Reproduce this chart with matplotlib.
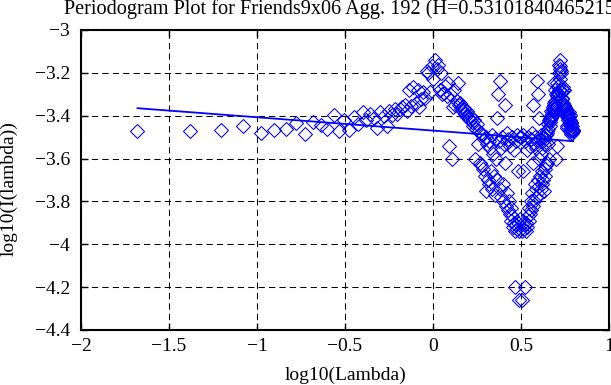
"""
Periodogram plot (log-log) for an aggregated trace, with the fitted line.
"""
import matplotlib

matplotlib.use("Agg")
import matplotlib.pyplot as plt

TITLE = "Periodogram Plot for Friends9x06 Agg. 192 (H=0.531018404652152)"

# log10(lambda) of each periodogram ordinate
log_lambda_low = [
    -1.679, -1.378, -1.202, -1.077, -0.980, -0.901, -0.834, -0.776, -0.725, -0.679,
    -0.638, -0.600, -0.565, -0.533, -0.503, -0.475, -0.449, -0.424, -0.400, -0.378,
    -0.357, -0.337, -0.317, -0.299, -0.281, -0.264, -0.248, -0.232, -0.217, -0.202,
    -0.188, -0.174, -0.160, -0.148, -0.135, -0.123, -0.111, -0.099, -0.088, -0.077,
    -0.066, -0.056, -0.045, -0.035, -0.026, -0.016, -0.007, 0.002, 0.011, 0.020,
    0.029, 0.037, 0.045, 0.053, 0.061, 0.069, 0.077, 0.084, 0.092, 0.099,
    0.106, 0.113, 0.120, 0.127, 0.134, 0.141, 0.147, 0.154, 0.160, 0.166,
    0.172, 0.178, 0.184, 0.190, 0.196, 0.202, 0.208, 0.213, 0.219, 0.224,
    0.230, 0.235, 0.240, 0.245, 0.250, 0.256, 0.261, 0.266, 0.270, 0.275,
    0.280, 0.285, 0.290, 0.294, 0.299, 0.303, 0.308, 0.312, 0.317, 0.321,
    0.325, 0.330, 0.334, 0.338, 0.342, 0.346, 0.350, 0.355, 0.359, 0.362,
    0.366, 0.370, 0.374, 0.378, 0.382, 0.386, 0.389, 0.393, 0.397, 0.400,
    0.404, 0.408, 0.411, 0.415, 0.418, 0.422, 0.425, 0.428, 0.432, 0.435,
    0.438, 0.442, 0.445, 0.448, 0.451, 0.455, 0.458, 0.461, 0.464, 0.467,
    0.470, 0.473, 0.476, 0.479, 0.482, 0.485, 0.488, 0.491, 0.494, 0.497,
]
log_lambda_high = [
    0.500, 0.503, 0.506, 0.509, 0.511, 0.514, 0.517, 0.520, 0.523, 0.525,
    0.528, 0.531, 0.533, 0.536, 0.538, 0.541, 0.544, 0.546, 0.549, 0.552,
    0.554, 0.557, 0.559, 0.562, 0.564, 0.567, 0.569, 0.571, 0.574, 0.576,
    0.579, 0.581, 0.583, 0.586, 0.588, 0.591, 0.593, 0.595, 0.597, 0.600,
    0.602, 0.604, 0.606, 0.609, 0.611, 0.613, 0.615, 0.618, 0.620, 0.622,
    0.624, 0.626, 0.628, 0.631, 0.633, 0.635, 0.637, 0.639, 0.641, 0.643,
    0.645, 0.647, 0.649, 0.651, 0.653, 0.656, 0.658, 0.660, 0.662, 0.664,
    0.665, 0.667, 0.669, 0.671, 0.673, 0.675, 0.677, 0.679, 0.681, 0.683,
    0.685, 0.687, 0.689, 0.690, 0.692, 0.694, 0.696, 0.698, 0.700, 0.701,
    0.703, 0.705, 0.707, 0.708, 0.710, 0.712, 0.714, 0.715, 0.717, 0.719,
    0.721, 0.722, 0.724, 0.726, 0.727, 0.729, 0.731, 0.733, 0.734, 0.736,
    0.738, 0.739, 0.741, 0.742, 0.744, 0.746, 0.747, 0.749, 0.751, 0.752,
    0.754, 0.755, 0.757, 0.759, 0.760, 0.762, 0.763, 0.765, 0.766, 0.768,
    0.770, 0.771, 0.773, 0.774, 0.776, 0.777, 0.779, 0.780, 0.782, 0.783,
    0.785, 0.786, 0.788, 0.789, 0.791, 0.792, 0.794, 0.795, 0.797,
]

# log10(I(lambda)) for the same ordinates
log_power_low = [
    -3.47, -3.47, -3.467, -3.45, -3.48, -3.467, -3.46, -3.435, -3.485, -3.428,
    -3.445, -3.463, -3.398, -3.47, -3.42, -3.465, -3.405, -3.44, -3.385, -3.42,
    -3.39, -3.41, -3.455, -3.385, -3.40, -3.45, -3.38, -3.395, -3.37, -3.39,
    -3.37, -3.36, -3.35, -3.38, -3.28, -3.355, -3.265, -3.34, -3.28, -3.36,
    -3.32, -3.29, -3.315, -3.19, -3.20, -3.29, -3.17, -3.23, -3.14, -3.18,
    -3.165, -3.28, -3.20, -3.30, -3.295, -3.26, -3.31, -3.245, -3.54, -3.30,
    -3.60, -3.36, -3.28, -3.35, -3.33, -3.245, -3.35, -3.34, -3.37, -3.36,
    -3.38, -3.37, -3.39, -3.40, -3.38, -3.41, -3.40, -3.42, -3.41, -3.43,
    -3.45, -3.42, -3.60, -3.46, -3.44, -3.53, -3.47, -3.62, -3.48, -3.63,
    -3.49, -3.65, -3.51, -3.68, -3.50, -3.75, -3.53, -3.70, -3.52, -3.72,
    -3.55, -3.66, -3.49, -3.74, -3.58, -3.68, -3.51, -3.77, -3.60, -3.41,
    -3.70, -3.30, -3.52, -3.24, -3.74, -3.55, -3.78, -3.50, -3.72, -3.80,
    -3.53, -3.35, -3.62, -3.82, -3.48, -3.76, -3.84, -3.51, -3.80, -3.86,
    -3.54, -3.83, -3.89, -3.50, -3.87, -3.92, -3.56, -3.90, -3.94, -4.20,
    -3.52, -3.91, -3.93, -3.49, -3.66, -3.90, -3.94, -4.26, -3.50, -3.88,
]
log_power_high = [
    -3.50, -4.26, -3.94, -3.90, -3.66, -3.49, -3.93, -3.91, -3.52, -4.20,
    -3.94, -3.90, -3.56, -3.92, -3.87, -3.50, -3.89, -3.83, -3.54, -3.86,
    -3.80, -3.51, -3.84, -3.76, -3.48, -3.82, -3.62, -3.35, -3.53, -3.80,
    -3.72, -3.50, -3.78, -3.55, -3.74, -3.24, -3.52, -3.30, -3.70, -3.41,
    -3.60, -3.77, -3.51, -3.68, -3.58, -3.74, -3.49, -3.66, -3.55, -3.72,
    -3.52, -3.70, -3.53, -3.75, -3.50, -3.68, -3.51, -3.65, -3.49, -3.63,
    -3.48, -3.62, -3.47, -3.53, -3.44, -3.46, -3.60, -3.42, -3.45, -3.43,
    -3.41, -3.42, -3.40, -3.41, -3.38, -3.40, -3.39, -3.37, -3.38, -3.36,
    -3.37, -3.34, -3.35, -3.245, -3.33, -3.35, -3.28, -3.36, -3.60, -3.30,
    -3.54, -3.245, -3.31, -3.26, -3.295, -3.30, -3.20, -3.28, -3.165, -3.18,
    -3.14, -3.23, -3.17, -3.29, -3.20, -3.19, -3.315, -3.29, -3.32, -3.36,
    -3.28, -3.34, -3.265, -3.355, -3.28, -3.38, -3.35, -3.36, -3.37, -3.39,
    -3.37, -3.395, -3.38, -3.45, -3.40, -3.385, -3.455, -3.41, -3.39, -3.42,
    -3.385, -3.44, -3.405, -3.465, -3.42, -3.47, -3.398, -3.463, -3.445, -3.428,
    -3.485, -3.435, -3.46, -3.467, -3.48, -3.45, -3.467, -3.47, -3.47,
]

# least-squares fit line end points
fit_x = [-1.679, 0.797]
fit_y = [-3.365, -3.519]

x_ticks = [-2, -1.5, -1, -0.5, 0, 0.5, 1]
y_ticks = [-4.4, -4.2, -4, -3.8, -3.6, -3.4, -3.2, -3]

plt.rcParams.update(
    {
        "font.family": ["Liberation Serif", "DejaVu Serif"],
        "font.size": 14,
    }
)

fig = plt.figure(figsize=(6.11, 3.85), dpi=100)
ax = fig.add_axes([81 / 611, 55 / 385, 528 / 611, 300 / 385])

ax.plot(
    log_lambda_low + log_lambda_high,
    log_power_low + log_power_high,
    linestyle="none",
    marker="D",
    markersize=7,
    markerfacecolor="none",
    markeredgecolor="#0000ff",
    markeredgewidth=0.75,
)
ax.plot(fit_x, fit_y, color="#0000ff", linewidth=1.3)

ax.set_xlim(-2, 1)
ax.set_ylim(-4.4, -3)
ax.set_xticks(x_ticks)
ax.set_yticks(y_ticks)
ax.set_xticklabels(["\u22122", "\u22121.5", "\u22121", "\u22120.5", "0", "0.5", "1"])
ax.set_yticklabels(["\u22124.4", "\u22124.2", "\u22124", "\u22123.8", "\u22123.6",
                    "\u22123.4", "\u22123.2", "\u22123"])
ax.grid(True, color="black", linestyle=(0, (6, 4)), linewidth=0.75)
ax.tick_params(direction="in", length=5, width=1, top=True, right=True, labelsize=14)
ax.tick_params(axis="y", pad=8)
ax.tick_params(axis="x", pad=6)
for sp in ax.spines.values():
    sp.set_linewidth(1.5)

# title runs past the right edge, as in the original export
fig.text(64 / 611, 1 - 14 / 385, TITLE, ha="left", va="baseline", fontsize=14.6)
fig.text(346 / 611, 1 - 375 / 385, "log10(Lambda)", ha="center", va="center", fontsize=14)
fig.text(9 / 611, 1 - 189 / 385, "log10(I(lambda))", ha="center", va="center",
         rotation=90, fontsize=14)

fig.savefig("out.png", dpi=100)
